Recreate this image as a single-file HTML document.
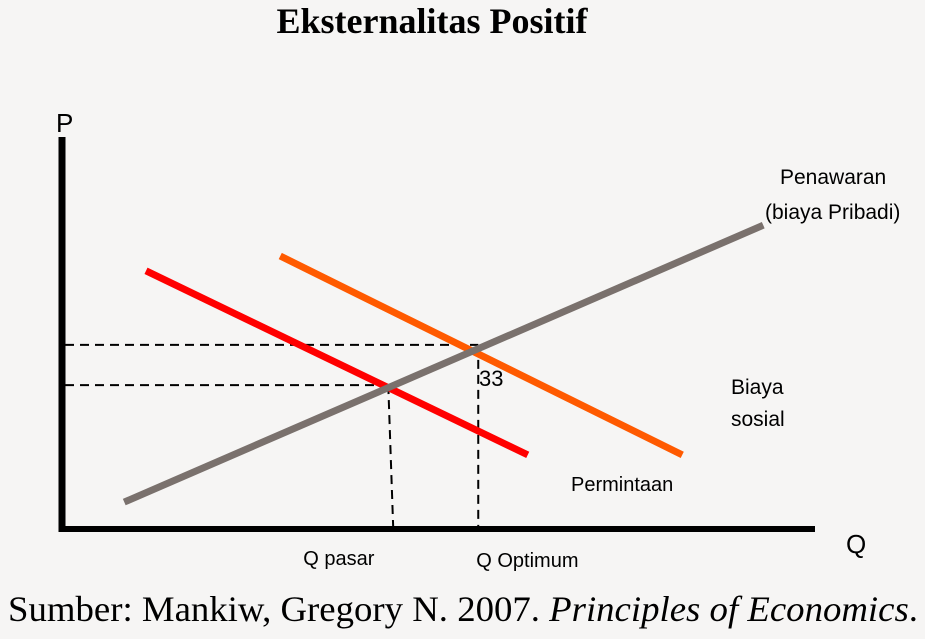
<!DOCTYPE html>
<html><head><meta charset="utf-8"><style>
body{margin:0;background:#f6f5f4;}
svg{display:block;font-family:"Liberation Sans",sans-serif;}
</style></head><body>
<svg id="c" width="925" height="639">
<rect width="925" height="639" fill="#f6f5f4"/>
<text x="432" y="33" text-anchor="middle" font-family="Liberation Serif,serif" font-weight="bold" font-size="36">Eksternalitas Positif</text>
<text x="8" y="621" font-family="Liberation Serif,serif" font-size="36" textLength="910" lengthAdjust="spacingAndGlyphs">Sumber: Mankiw, Gregory N. 2007. <tspan font-style="italic">Principles of Economics</tspan>.</text>
<g id="plot"></g>
</svg>
<script>
const qAxisRange=[0,100];
const pAxisRange=[0,100];
const supplyQ=[8.3,93.5], supplyP=[6.9,77.9];
const privateDemandQ=[11.2,62.1], privateDemandP=[66.2,19];
const socialDemandQ=[29.1,82.7], socialDemandP=[70,19];
const marketEq=[43.5,36.9];
const optimumEq=[55.5,47.2];
const qLabels=["Q pasar","Q Optimum"];
function sx(q){return 62+(q-qAxisRange[0])/(qAxisRange[1]-qAxisRange[0])*750;}
function sy(p){return 529-(p-pAxisRange[0])/(pAxisRange[1]-pAxisRange[0])*390;}
const g=document.getElementById('plot');
const NS='http://www.w3.org/2000/svg';
function mk(tag,attrs){const e=document.createElementNS(NS,tag);for(const k in attrs)e.setAttribute(k,attrs[k]);g.appendChild(e);return e;}
let e;
e=mk('line',{x1:65,y1:sy(optimumEq[1]),x2:sx(optimumEq[0]),y2:sy(optimumEq[1]),stroke:'#000','stroke-width':2,'stroke-dasharray':'9,6'});


e=mk('line',{x1:65,y1:sy(marketEq[1]),x2:sx(marketEq[0]),y2:sy(marketEq[1]),stroke:'#000','stroke-width':2,'stroke-dasharray':'9,6'});


e=mk('line',{x1:sx(optimumEq[0]),y1:sy(optimumEq[1]),x2:sx(optimumEq[0]),y2:529,stroke:'#000','stroke-width':2,'stroke-dasharray':'9,6'});


e=mk('line',{x1:sx(marketEq[0]),y1:sy(marketEq[1]),x2:sx(marketEq[0])+5,y2:529,stroke:'#000','stroke-width':2,'stroke-dasharray':'9,6'});


e=mk('line',{x1:sx(privateDemandQ[0]),y1:sy(privateDemandP[0]),x2:sx(privateDemandQ[1]),y2:sy(privateDemandP[1]),stroke:'#ff0000','stroke-width':7});


e=mk('line',{x1:sx(socialDemandQ[0]),y1:sy(socialDemandP[0]),x2:sx(socialDemandQ[1]),y2:sy(socialDemandP[1]),stroke:'#ff5a00','stroke-width':7});


e=mk('line',{x1:sx(supplyQ[0]),y1:sy(supplyP[0]),x2:sx(supplyQ[1]),y2:sy(supplyP[1]),stroke:'#7a716d','stroke-width':7});


e=mk('line',{x1:62,y1:137,x2:62,y2:532,stroke:'#000','stroke-width':7});


e=mk('line',{x1:59,y1:529,x2:815,y2:529,stroke:'#000','stroke-width':6});


function txt(x,y,s,size,name){const t=mk('text',{x:x,y:y,'font-size':size,fill:'#000'});t.textContent=s;return t;}
txt(56,132,'P',26,'y-axis-title');
txt(846,553,'Q',26,'x-axis-title');
txt(479,386,'33',22,'point-label');
txt(sx(marketEq[0])-85,565,qLabels[0],20,'q-market-label');
txt(sx(optimumEq[0])-2,567,qLabels[1],20,'q-optimum-label');
txt(571,491,'Permintaan',20,'demand-label');
txt(731,394,'Biaya',21,'social-cost-label-1');
txt(731,426,'sosial',21,'social-cost-label-2');
txt(780,184,'Penawaran',21,'supply-label-1');
txt(765,219,'(biaya Pribadi)',21,'supply-label-2');
</script>
</body></html>
